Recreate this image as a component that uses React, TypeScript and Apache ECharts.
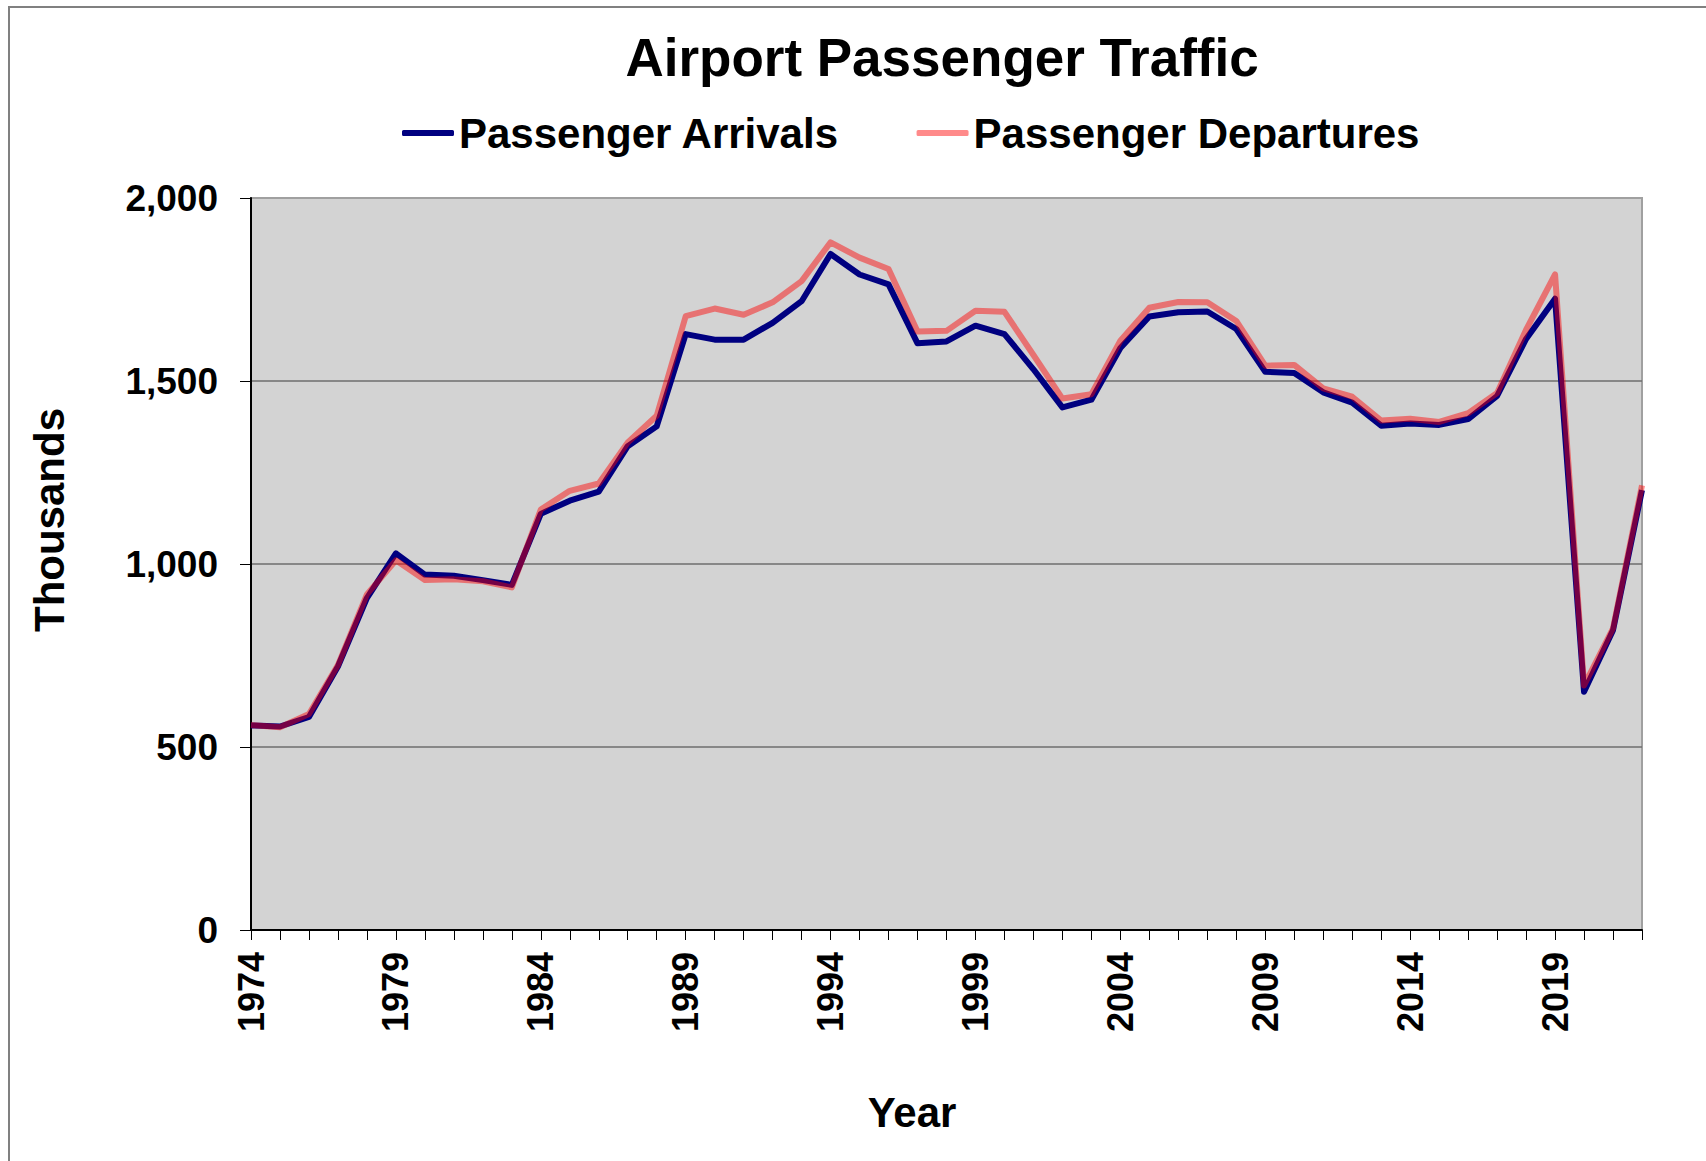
import React, { useEffect, useRef } from "react";
import * as echarts from "echarts";

const years = [
  "1974", "1975", "1976", "1977", "1978", "1979", "1980", "1981", "1982", "1983",
  "1984", "1985", "1986", "1987", "1988", "1989", "1990", "1991", "1992", "1993",
  "1994", "1995", "1996", "1997", "1998", "1999", "2000", "2001", "2002", "2003",
  "2004", "2005", "2006", "2007", "2008", "2009", "2010", "2011", "2012", "2013",
  "2014", "2015", "2016", "2017", "2018", "2019", "2020", "2021", "2022",
];

const arrivals = [
  559, 556, 582, 720, 907, 1029, 971, 968, 956, 943,
  1137, 1173, 1198, 1322, 1376, 1628, 1613, 1613, 1659, 1718,
  1847, 1791, 1764, 1603, 1608, 1651, 1628, 1532, 1428, 1449,
  1590, 1676, 1688, 1690, 1642, 1525, 1522, 1469, 1441, 1378,
  1384, 1380, 1396, 1459, 1615, 1725, 651, 819, 1202,
];

const departures = [
  560, 554, 590, 724, 917, 1010, 956, 958, 953, 936,
  1149, 1200, 1220, 1332, 1405, 1677, 1698, 1681, 1715, 1773,
  1879, 1837, 1806, 1635, 1637, 1692, 1689, 1571, 1452, 1464,
  1610, 1700, 1716, 1715, 1664, 1542, 1544, 1480, 1457, 1392,
  1397, 1388, 1412, 1467, 1640, 1791, 668, 824, 1215,
];

const FONT = "'Liberation Sans', Arial, Helvetica, sans-serif";

export default function App() {
  const ref = useRef<HTMLDivElement>(null);

  useEffect(() => {
    if (!ref.current) return;
    const chart = echarts.init(ref.current, null, { renderer: "svg" });
    chart.setOption({
      animation: false,
      backgroundColor: "#ffffff",
      textStyle: { fontFamily: FONT },
      graphic: [
        {
          type: "rect",
          shape: { x: 9, y: 7, width: 1800, height: 1300 },
          style: { fill: "none", stroke: "#808080", lineWidth: 2 },
          silent: true,
          z: -1,
        },
        {
          type: "text",
          x: 942,
          y: 57,
          style: {
            text: "Airport Passenger Traffic",
            fontFamily: FONT,
            fontWeight: "bold",
            fontSize: 53,
            fill: "#000000",
            align: "center",
            verticalAlign: "middle",
          },
        },
        {
          type: "text",
          x: 912,
          y: 1112,
          style: {
            text: "Year",
            fontFamily: FONT,
            fontWeight: "bold",
            fontSize: 42,
            fill: "#000000",
            align: "center",
            verticalAlign: "middle",
          },
        },
        {
          type: "text",
          x: 49,
          y: 520,
          rotation: Math.PI / 2,
          style: {
            text: "Thousands",
            fontFamily: FONT,
            fontWeight: "bold",
            fontSize: 42,
            fill: "#000000",
            align: "center",
            verticalAlign: "middle",
          },
        },
      ],
      legend: {
        left: 397,
        top: 107,
        itemWidth: 52,
        itemHeight: 6,
        itemGap: 77,
        icon: "roundRect",
        textStyle: {
          fontFamily: FONT,
          fontWeight: "bold",
          fontSize: 42,
          color: "#000000",
        },
        data: [
          { name: "Passenger Arrivals", itemStyle: { color: "#000080" } },
          { name: "Passenger Departures", itemStyle: { color: "#ff8a8a" } },
        ],
      },
      grid: {
        left: 251,
        right: 64,
        top: 198,
        bottom: 231,
        show: true,
        backgroundColor: "#d3d3d3",
        borderColor: "#a0a0a0",
        borderWidth: 2,
      },
      xAxis: {
        type: "category",
        data: years,
        boundaryGap: false,
        axisLine: { show: true, lineStyle: { color: "#000000", width: 2 } },
        axisTick: {
          show: true,
          interval: 0,
          length: 10,
          lineStyle: { color: "#000000", width: 1 },
        },
        axisLabel: {
          interval: 4,
          rotate: 90,
          margin: 22,
          fontFamily: FONT,
          fontWeight: "bold",
          fontSize: 36,
          color: "#000000",
        },
        splitLine: { show: false },
      },
      yAxis: {
        type: "value",
        min: 0,
        max: 2000,
        interval: 500,
        axisLine: { show: true, lineStyle: { color: "#000000", width: 2 } },
        axisTick: { show: true, length: 11, lineStyle: { color: "#000000", width: 1 } },
        axisLabel: {
          margin: 33,
          fontFamily: FONT,
          fontWeight: "bold",
          fontSize: 37,
          color: "#000000",
          formatter: (v: number) => v.toLocaleString("en-US"),
        },
        splitLine: {
          show: true,
          lineStyle: {
            color: ["#6e6e6e", "#6e6e6e", "#6e6e6e", "#6e6e6e", "#a0a0a0"],
            width: 1.5,
          },
        },
      },
      series: [
        {
          name: "Passenger Arrivals",
          type: "line",
          data: arrivals,
          showSymbol: false,
          symbol: "none",
          color: "#000080",
          lineStyle: { color: "#000080", width: 6, join: "round" },
          z: 2,
        },
        {
          name: "Passenger Departures",
          type: "line",
          data: departures,
          showSymbol: false,
          symbol: "none",
          color: "#ff8a8a",
          lineStyle: { color: "rgba(255,0,0,0.46)", width: 6, join: "round" },
          z: 3,
        },
      ],
    });
    return () => chart.dispose();
  }, []);

  return (
    <div
      ref={ref}
      style={{ position: "absolute", left: 0, top: 0, width: 1706, height: 1161 }}
    />
  );
}
